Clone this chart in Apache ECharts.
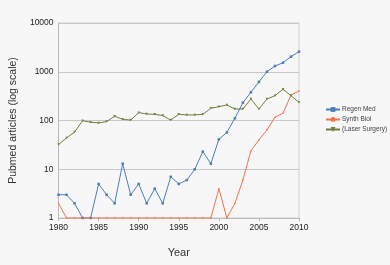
<!DOCTYPE html>
<html><head><meta charset="utf-8">
<script src="https://cdn.jsdelivr.net/npm/echarts@6/dist/echarts.min.js"></script>
<style>html,body{margin:0;padding:0;background:#f7f7f7}#c{width:390px;height:265px}</style>
</head><body><div id="c"></div>
<script>
const years = [1980,1981,1982,1983,1984,1985,1986,1987,1988,1989,1990,1991,1992,1993,1994,1995,1996,1997,1998,1999,2000,2001,2002,2003,2004,2005,2006,2007,2008,2009,2010];
const regenMed = [3,3,2,1,1,5,3,2,13,3,5,2,4,2,7,5,6,10,23,13,41,57,111,232,380,620,1000,1310,1530,2040,2580];
const synthBiol = [2,1,1,1,1,1,1,1,1,1,1,1,1,1,1,1,1,1,1,1,4,1,2,6,24,40,64,116,141,333,403];
const laserSurgery = [32,44,58,99,92,89,95,122,106,102,145,136,134,126,102,134,130,130,134,178,192,208,172,172,276,172,276,323,437,323,236];
const seriesNames = ['Regen Med','Synth Biol','(Laser Surgery)'];
const yTicks = [1,10,100,1000,10000];

const pair = arr => years.map((y,i)=>[y,arr[i]]);
const chart = echarts.init(document.getElementById('c'));
const font = 'Liberation Sans, Arial, sans-serif';
chart.setOption({
  backgroundColor:'#f7f7f7',
  animation:false,
  grid:{left:53,right:91,top:23,bottom:47,show:true,borderColor:'#cfcfcf',borderWidth:1},
  legend:{
    orient:'vertical', left:325, top:106, itemGap:3, itemWidth:14, itemHeight:6,padding:0,
    textStyle:{fontSize:6.5,color:'#444',fontFamily:font,padding:[0,0,0,-3]},
    data:seriesNames
  },
  xAxis:{type:'value',min:1980,max:2010,interval:5,
    name:'Year',nameLocation:'middle',nameGap:29,nameTextStyle:{fontSize:11,color:'#333',fontFamily:font},
    axisLine:{lineStyle:{color:'#bbb'}},axisTick:{show:true,length:3,lineStyle:{color:'#bbb'}},
    axisLabel:{fontSize:8.5,color:'#222',fontFamily:font,margin:5,formatter:v=>String(v)},
    splitLine:{show:false}},
  yAxis:{type:'log',logBase:10,min:1,max:10000,
    name:'Pubmed articles (log scale)',nameLocation:'middle',nameGap:34,nameTextStyle:{fontSize:10.5,color:'#333',fontFamily:font},
    axisLine:{show:true,lineStyle:{color:'#bbb'}},axisTick:{show:false},
    axisLabel:{fontSize:8.5,color:'#222',fontFamily:font,margin:5,formatter:v=>String(Math.round(v))},
    splitLine:{show:true,lineStyle:{color:'#c8c8c8',width:1}}},
  series:[
    {name:seriesNames[0],type:'line',data:pair(regenMed),symbol:'rect',symbolSize:2.5,
      lineStyle:{width:1,color:'#4a7ebb'},itemStyle:{color:'#4a7ebb'}},
    {name:seriesNames[1],type:'line',data:pair(synthBiol),symbol:'circle',symbolSize:1.5,
      lineStyle:{width:1,color:'#f4714a'},itemStyle:{color:'#f4714a'}},
    {name:seriesNames[2],type:'line',data:pair(laserSurgery),symbol:'triangle',symbolRotate:180,symbolSize:2.5,
      lineStyle:{width:1,color:'#6e7f3f'},itemStyle:{color:'#6e7f3f'}}
  ]
});
</script></body></html>
